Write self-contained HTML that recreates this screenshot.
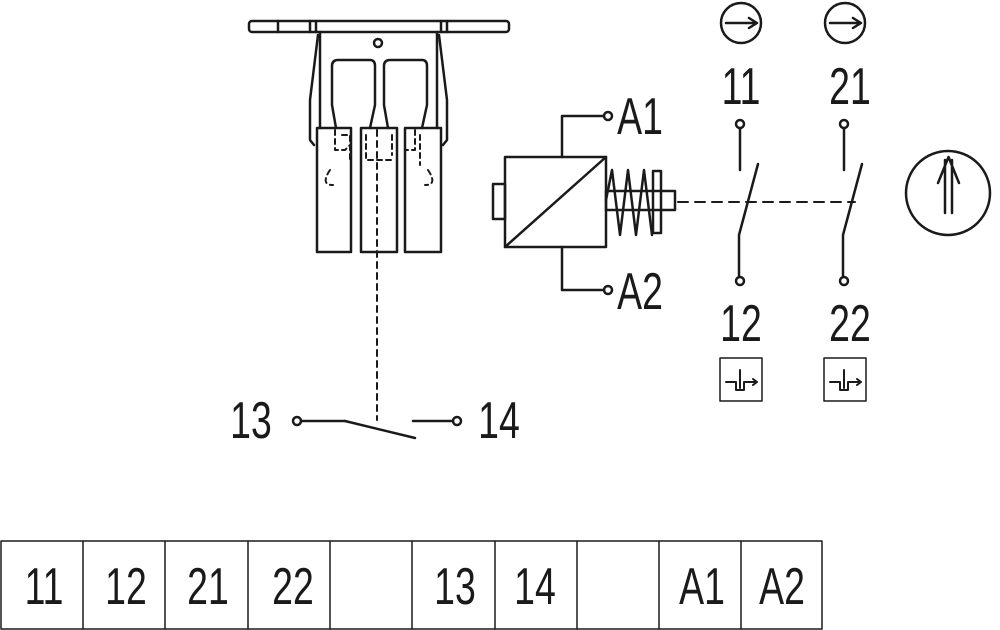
<!DOCTYPE html>
<html><head><style>
html,body{margin:0;padding:0;background:#fff;}
svg{display:block;}
text{font-family:"Liberation Sans",sans-serif;fill:#1a1a1a;}
</style></head><body>
<svg width="1000" height="630" viewBox="0 0 1000 630" xmlns="http://www.w3.org/2000/svg">
<g fill="none" stroke="#1a1a1a" stroke-width="2.5" stroke-linecap="round" stroke-linejoin="round">
<!-- mechanism -->
<rect x="249" y="21" width="260" height="11" rx="3"/>
<line x1="278" y1="21" x2="278" y2="32"/><line x1="310" y1="21" x2="310" y2="32"/><line x1="316" y1="21" x2="316" y2="32"/>
<line x1="441" y1="21" x2="441" y2="32"/><line x1="447" y1="21" x2="447" y2="32"/>
<path d="M320 32 L320 128 M437 32 L437 128"/>
<path d="M318 35 L310 100 L310 140 L314 145"/>
<path d="M439 35 L447 100 L447 140 L443 145"/>
<circle cx="378" cy="43" r="4"/>
<path d="M338 60 H370 Q375 60 375 66 V105 L370 128 M338 60 Q332 60 332 66 V105 L336 128"/>
<path d="M390 60 H422 Q427 60 427 66 V105 L422 128 M390 60 Q384 60 384 66 V105 L388 128"/>
<rect x="317" y="128" width="34" height="124"/>
<rect x="361" y="128" width="36" height="124"/>
<rect x="405" y="128" width="36" height="124"/>
<g stroke-width="2" stroke-dasharray="5,4">
<path d="M335 130 V150 L345 150 L350 145 M342 135 H350 V160 M366 135 V160 H395 M392 135 V155"/>
<path d="M415 130 V150 L405 150 M420 135 V165 M330 170 Q320 185 333 185 M428 170 Q438 185 425 185"/>
</g>
<line x1="377" y1="130" x2="377" y2="420" stroke-width="2" stroke-dasharray="6,5"/>
<!-- 13-14 switch -->
<circle cx="297" cy="421" r="4"/>
<line x1="301" y1="421" x2="345" y2="421"/>
<line x1="345" y1="421" x2="415" y2="438"/>
<line x1="413" y1="421" x2="453" y2="421"/>
<circle cx="457" cy="421" r="4"/>
<!-- coil -->
<rect x="505" y="157" width="101" height="90"/>
<line x1="505" y1="247" x2="606" y2="157"/>
<rect x="493" y="184" width="12" height="35"/>
<path d="M562 157 V116 H604"/><circle cx="608" cy="116" r="4"/>
<path d="M562 247 V290 H604"/><circle cx="608" cy="290" r="4"/>
<rect x="606" y="191" width="69" height="19"/>
<rect x="653" y="171" width="8" height="62"/>
<path d="M606 200 L612 170 L620 235 L628 170 L636 235 L644 170 L652 235"/>
<line x1="678" y1="202" x2="855" y2="202" stroke-width="2" stroke-dasharray="10,7"/>
<!-- NC contacts -->
<circle cx="741" cy="23" r="20"/><path d="M726 23 H756 M749 18 L757 23 L749 28"/>
<circle cx="845" cy="23" r="20"/><path d="M830 23 H860 M853 18 L861 23 L853 28"/>
<circle cx="740" cy="124" r="4"/><line x1="740" y1="128" x2="740" y2="170"/>
<path d="M758 164 L739 235 V277"/><circle cx="740" cy="281" r="4"/>
<circle cx="844" cy="124" r="4"/><line x1="844" y1="128" x2="844" y2="170"/>
<path d="M862 164 L843 235 V277"/><circle cx="844" cy="281" r="4"/>
<rect x="720" y="358" width="42" height="43" stroke-width="1.5"/>
<rect x="824" y="358" width="42" height="43" stroke-width="1.5"/>
<path d="M726 382 H736 V390 H744 V382 H750 M740 370 V388 M750 382 H756 M753 379 L757 382 L753 385" stroke-width="2"/>
<path d="M830 382 H840 V390 H848 V382 H854 M844 370 V388 M854 382 H860 M857 379 L861 382 L857 385" stroke-width="2"/>
<circle cx="948" cy="193" r="42"/>
<path d="M945 213 V160 M952 213 V160 M938 183 L948.5 157 L959 183"/>
<!-- table -->
<rect x="1" y="541" width="821" height="88" stroke-width="1.5"/>
<g stroke-width="1.5"><line x1="83" y1="541" x2="83" y2="629"/><line x1="165" y1="541" x2="165" y2="629"/><line x1="248" y1="541" x2="248" y2="629"/><line x1="330" y1="541" x2="330" y2="629"/><line x1="412" y1="541" x2="412" y2="629"/><line x1="495" y1="541" x2="495" y2="629"/><line x1="577" y1="541" x2="577" y2="629"/><line x1="659" y1="541" x2="659" y2="629"/><line x1="741" y1="541" x2="741" y2="629"/></g>
</g>
<g font-size="52" text-anchor="middle">
<text transform="translate(741 104) scale(0.72 1)">11</text>
<text transform="translate(850 104) scale(0.72 1)">21</text>
<text transform="translate(741 341) scale(0.72 1)">12</text>
<text transform="translate(850 341) scale(0.72 1)">22</text>
<text transform="translate(251 438) scale(0.72 1)">13</text>
<text transform="translate(499 438) scale(0.72 1)">14</text>
<text transform="translate(640 134) scale(0.72 1)">A1</text>
<text transform="translate(640 309) scale(0.72 1)">A2</text>
<text transform="translate(44 604) scale(0.72 1)">11</text>
<text transform="translate(126 604) scale(0.72 1)">12</text>
<text transform="translate(208 604) scale(0.72 1)">21</text>
<text transform="translate(293 604) scale(0.72 1)">22</text>
<text transform="translate(455 604) scale(0.72 1)">13</text>
<text transform="translate(535 604) scale(0.72 1)">14</text>
<text transform="translate(702 604) scale(0.72 1)">A1</text>
<text transform="translate(782 604) scale(0.72 1)">A2</text>
</g>
</svg>
</body></html>
